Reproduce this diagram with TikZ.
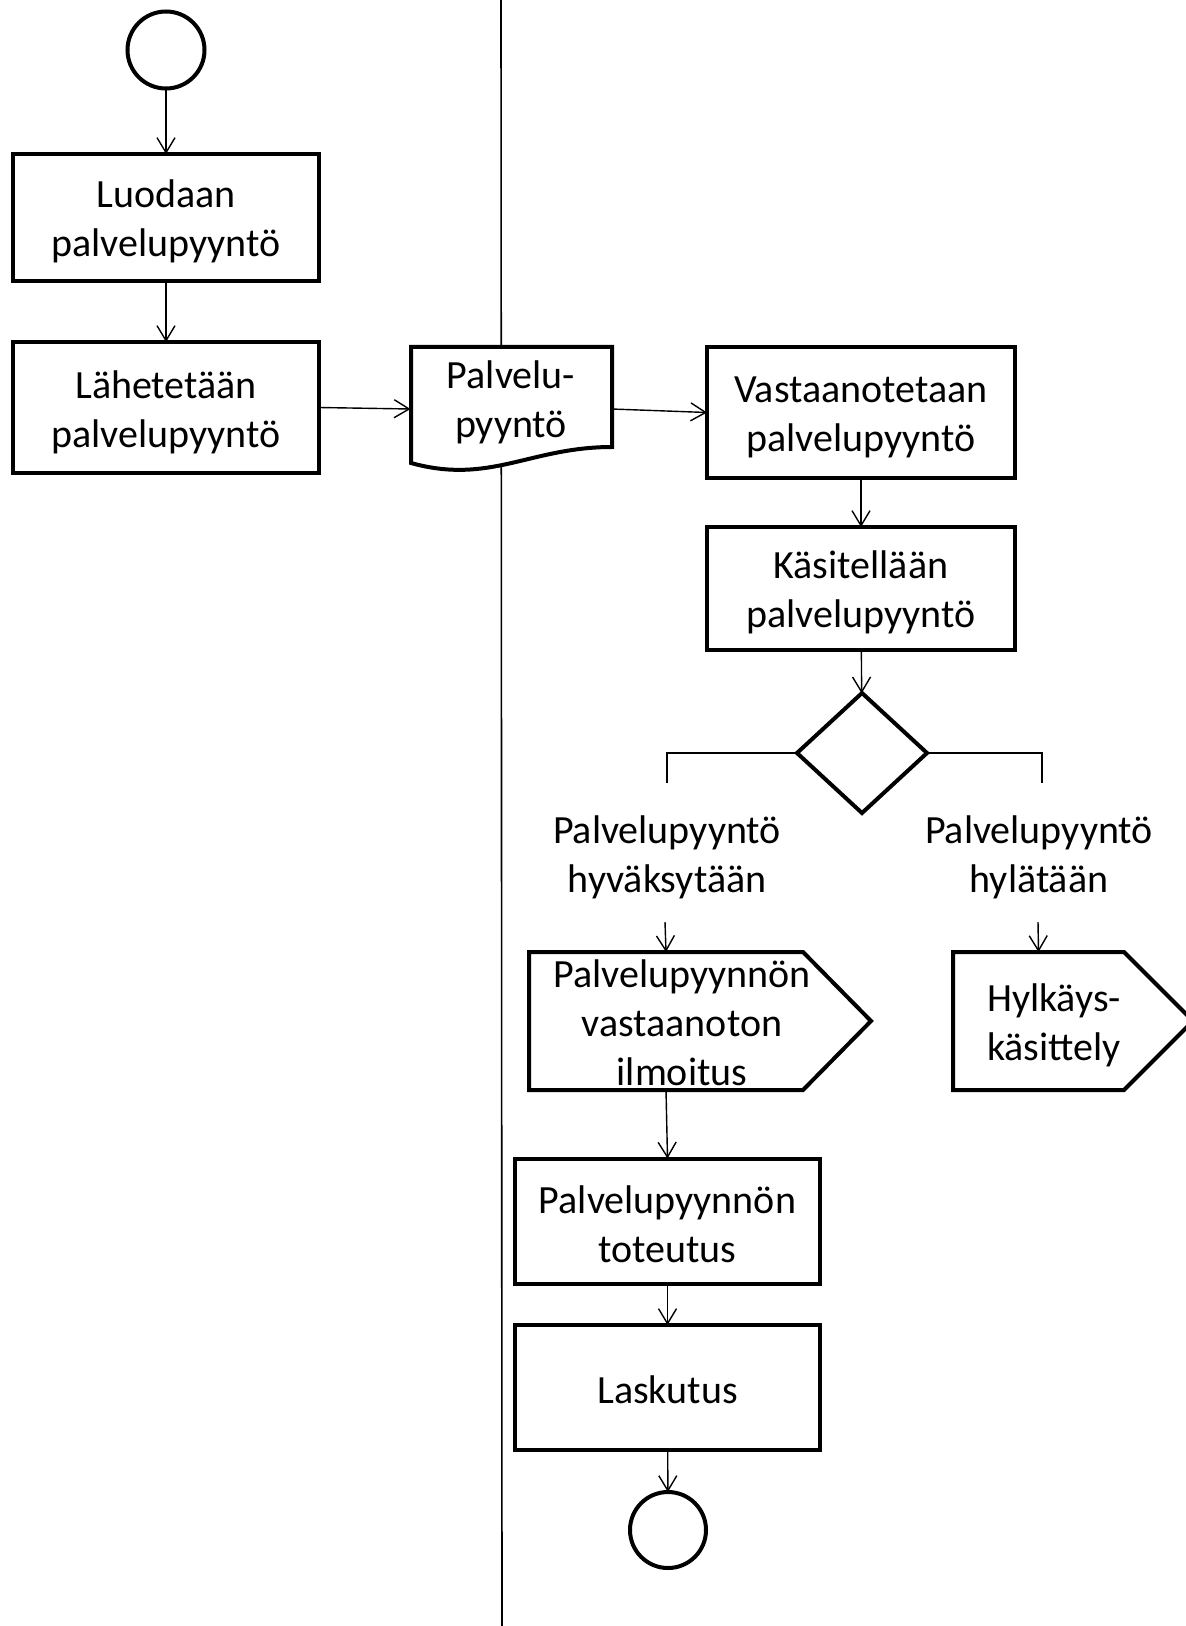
\documentclass[tikz,border=0pt]{standalone}
\usepackage{fontspec}
\setmainfont{Carlito}
\usetikzlibrary{arrows.meta,shapes.geometric,calc}
\begin{document}
\begin{tikzpicture}[x=0.5pt,y=-0.5pt,
  every node/.style={font=\fontsize{20pt}{24.5pt}\selectfont, align=center, inner sep=0pt, outer sep=0pt},
  box/.style={draw, line width=2pt, rectangle},
  term/.style={draw, circle, line width=2pt, minimum size=#1},
  conn/.style={line width=0.7pt, -{Straight Barb[length=7.5pt,width=9pt]}},
  plain/.style={line width=0.7pt},
  lane/.style={line width=0.8pt},
  shapeline/.style={line width=2pt, fill=white, line join=miter},
]
\useasboundingbox (0,0) rectangle (1186,1626);

% swimlane separator
\coordinate (laneT) at (501,0);
\coordinate (laneB) at (502,1626);
\draw[lane] (laneT) -- (laneB);

% left lane
\node[term=38.5pt] (start) at (166,50) {};
\node[box, minimum width=153pt, minimum height=63.5pt] (b1) at (166,217.5) {};
\node (b1t) at (166,221.5) {Luodaan\\palvelupyyntö};
\node[box, minimum width=153pt, minimum height=65.5pt] (b2) at (166,407.5) {};
\node (b2t) at (166,412) {Lähetetään\\palvelupyyntö};

% document
\draw[shapeline] (411,347) -- (612,347) -- (612,447)
  .. controls (530,447) and (490,485) .. (411,463) -- cycle;
\node[minimum width=100.5pt] (doc) at (511,402) {Palvelu-\\pyyntö};

% right lane
\node[box, minimum width=154pt, minimum height=65.5pt] (b3) at (861,412.5) {};
\node (b3t) at (861,417) {Vastaanotetaan\\palvelupyyntö};
\node[box, minimum width=154pt, minimum height=61.5pt] (b4) at (861,588.5) {};
\node (b4t) at (861,592.5) {Käsitellään\\palvelupyyntö};
\node[draw, diamond, line width=2pt, minimum width=65pt, minimum height=60pt] (dia) at (862,753) {};

\coordinate (lend) at (667,783);
\coordinate (rend) at (1042,783);
\node (lab1) at (667,857) {Palvelupyyntö\\hyväksytään};
\node (lab2) at (1039,857) {Palvelupyyntö\\hylätään};
\coordinate (a1) at (665,922);
\coordinate (a2) at (1038,922);

\node[minimum width=137pt, minimum height=69pt] (sig1) at (666,1021) {};
\draw[shapeline] (sig1.north west) -- (sig1.north east) -- ($(sig1.east)+(68,0)$)
  -- (sig1.south east) -- (sig1.south west) -- cycle;
\node (sig1t) at (682,1023) {Palvelupyynnön\\vastaanoton\\ilmoitus};

\node[minimum width=85.5pt, minimum height=69pt] (sig2) at (1038.5,1021) {};
\draw[shapeline] (sig2.north west) -- (sig2.north east) -- ($(sig2.east)+(69,0)$)
  -- (sig2.south east) -- (sig2.south west) -- cycle;
\node (sig2t) at (1054,1025.5) {Hylkäys-\\käsittely};

\node[box, minimum width=152.5pt, minimum height=62.5pt] (b5) at (667.5,1221) {};
\node (b5t) at (667.5,1224) {Palvelupyynnön\\toteutus};
\node[box, minimum width=152.5pt, minimum height=62.5pt] (b6) at (667.5,1387.5) {};
\node (b6t) at (667.5,1390) {Laskutus};
\node[term=38pt] (end) at (668,1530) {};

% connectors
\draw[conn] (start) -- (b1);
\draw[conn] (b1) -- (b2);
\draw[conn] (b2.east) -- ([yshift=-3.5pt]doc.west);
\draw[conn] ([yshift=-3.5pt]doc.east) -- (b3.west);
\draw[conn] (b3) -- (b4);
\draw[conn] (b4) -- (dia);
\draw[plain] (dia.west) -| (lend);
\draw[plain] (dia.east) -| (rend);
\draw[conn] (a1) -- (sig1.north);
\draw[conn] (a2) -- (sig2.north);
\draw[conn] (sig1.south) -- (b5.north);
\draw[conn] (b5) -- (b6);
\draw[conn] (b6) -- (end);
\end{tikzpicture}
\end{document}
